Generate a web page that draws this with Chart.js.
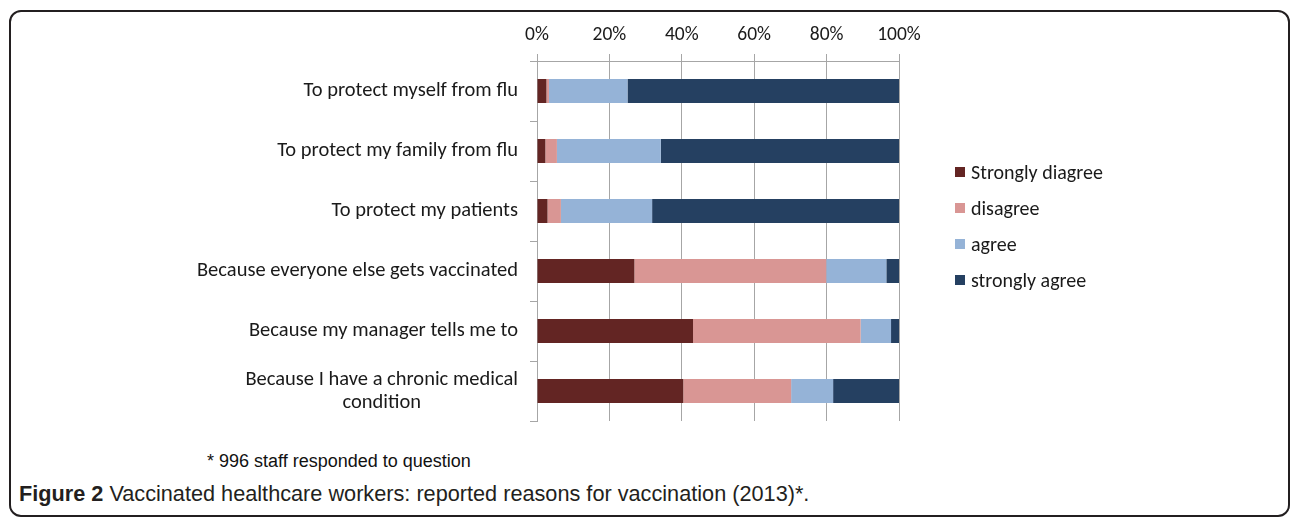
<!DOCTYPE html>
<html>
<head>
<meta charset="utf-8">
<script src="https://cdn.jsdelivr.net/npm/chart.js@4.4.1/dist/chart.umd.min.js"></script>
<style>
    html, body { margin: 0; padding: 0; background: #fff; }
    #wrap { position: relative; width: 1295px; height: 524px; overflow: hidden; }
    #frame { position: absolute; left: 9px; top: 10px; width: 1281px; height: 507px;
             border: 2px solid #231f20; border-radius: 12px; box-sizing: border-box; }
    #chart { position: absolute; left: 0; top: 0; }
    #legend { position: absolute; left: 955px; top: 154px; font: 20px Carlito, Lato, sans-serif; color: #1a1a1a; }
    #legend div { height: 36px; display: flex; align-items: center; white-space: nowrap; }
    #legend span { display: inline-block; width: 10px; height: 10px; margin-right: 6px; }
    #note { position: absolute; left: 207px; top: 451px; font: 18px "Liberation Sans", Arial, sans-serif; color: #111; }
    #caption { position: absolute; left: 19px; top: 481px; font: 21.7px "Liberation Sans", Arial, sans-serif; color: #231f20; white-space: nowrap; }
    #caption b { font-weight: bold; }
</style>
</head>
<body>
<div id="wrap">
    <div id="frame"></div>
    <canvas id="chart" width="1295" height="440"></canvas>
    <div id="legend"></div>
    <div id="note">* 996 staff responded to question</div>
    <div id="caption"><b>Figure 2</b> Vaccinated healthcare workers: reported reasons for vaccination (2013)*.</div>
</div>
<script>
// Dados (percentagens)
const categories = [
    ['To protect myself from flu'],
    ['To protect my family from flu'],
    ['To protect my patients'],
    ['Because everyone else gets vaccinated'],
    ['Because my manager tells me to'],
    ['Because I have a chronic medical', 'condition']
];
const seriesNames = ['Strongly diagree', 'disagree', 'agree', 'strongly agree'];
const seriesColors = ['#632523', '#d99694', '#95b3d7', '#254061'];
const stronglyDisagree = [2.6, 2.3, 2.9, 26.9, 43.1, 40.4];
const disagree = [0.7, 3.2, 3.7, 53.0, 46.3, 29.8];
const agree = [21.7, 28.7, 25.2, 16.6, 8.4, 11.6];
const stronglyAgree = [75.0, 65.8, 68.2, 3.5, 2.2, 18.2];
const tickValues = [0, 20, 40, 60, 80, 100];

const labelFont = '20.5px Carlito, Lato, sans-serif';
const gridColor = '#a6a6a6';

// Rótulos do eixo Y desenhados à mão para centrar as linhas múltiplas
const yLabels = {
    id: 'yLabels',
    afterDraw(chart) {
        const ctx = chart.ctx;
        const y = chart.scales.y;
        ctx.save();
        ctx.font = labelFont;
        ctx.fillStyle = '#1a1a1a';
        ctx.textBaseline = 'middle';
        ctx.textAlign = 'center';
        const right = y.right - 19;
        categories.forEach((lines, i) => {
            const cy = y.getPixelForValue(i);
            const w = Math.max(...lines.map(l => ctx.measureText(l).width));
            const lh = 23;
            const top = cy - (lines.length - 1) * lh / 2;
            lines.forEach((l, j) => ctx.fillText(l, right - w / 2, top + j * lh));
        });
        ctx.restore();
    }
};

document.addEventListener('DOMContentLoaded', function() {
    const data = [stronglyDisagree, disagree, agree, stronglyAgree];
    new Chart(document.getElementById('chart'), {
        type: 'bar',
        data: {
            labels: categories.map(c => c.join(' ')),
            datasets: seriesNames.map((name, i) => ({
                label: name,
                data: data[i],
                backgroundColor: seriesColors[i],
                borderWidth: 0,
                categoryPercentage: 0.5,
                barPercentage: 0.8
            }))
        },
        options: {
            indexAxis: 'y',
            responsive: false,
            animation: false,
            layout: { padding: { top: 10, bottom: 19, left: 0, right: 396 } },
            plugins: {
                legend: { display: false },
                tooltip: { enabled: false }
            },
            scales: {
                x: {
                    position: 'top',
                    stacked: true,
                    min: 0,
                    max: 100,
                    afterFit: s => { s.height = 51; },
                    afterBuildTicks: s => { s.ticks = tickValues.map(v => ({ value: v })); },
                    ticks: {
                        padding: 7,
                        color: '#1a1a1a',
                        font: { family: 'Carlito, Lato, sans-serif', size: 19.5 },
                        callback: v => v + '%'
                    },
                    grid: { color: gridColor, tickLength: 7 },
                    border: { color: gridColor }
                },
                y: {
                    stacked: true,
                    afterFit: s => { s.width = 537; },
                    ticks: { display: false },
                    grid: { offset: true, drawOnChartArea: false, tickLength: 7, color: gridColor },
                    border: { color: gridColor }
                }
            }
        },
        plugins: [yLabels]
    });

    // Legenda em HTML
    const legend = document.getElementById('legend');
    seriesNames.forEach((name, i) => {
        const row = document.createElement('div');
        const sw = document.createElement('span');
        sw.style.background = seriesColors[i];
        row.appendChild(sw);
        row.appendChild(document.createTextNode(name));
        legend.appendChild(row);
    });
});
</script>
</body>
</html>
